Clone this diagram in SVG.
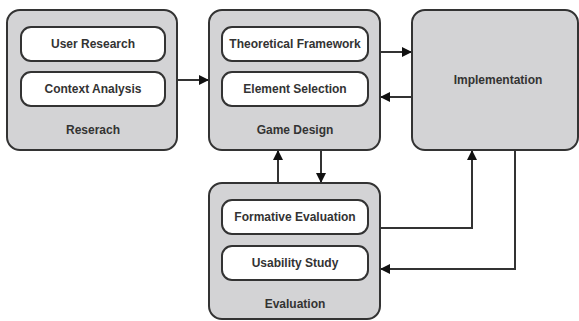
<svg xmlns="http://www.w3.org/2000/svg" width="579" height="321" viewBox="0 0 579 321">
<defs>
<style>
.outer{fill:#d3d3d5;stroke:#333;stroke-width:2}
.inner{fill:#fff;stroke:#333;stroke-width:2}
.t{font-family:"Liberation Sans",Arial,sans-serif;font-size:12px;font-weight:bold;fill:#333;text-anchor:middle;dominant-baseline:central}
.c{fill:none;stroke:#333;stroke-width:2}
</style>
<marker id="a" viewBox="0 0 10 10" refX="9" refY="5" markerWidth="10" markerHeight="10" orient="auto" markerUnits="userSpaceOnUse">
<path d="M0,0 L10,5 L0,10 z" fill="#111"/>
</marker>
</defs>
<g id="connectors">
<line class="c" x1="177" y1="80" x2="208" y2="80" marker-end="url(#a)"/>
<line class="c" x1="380" y1="52" x2="411" y2="52" marker-end="url(#a)"/>
<line class="c" x1="412" y1="97" x2="381" y2="97" marker-end="url(#a)"/>
<line class="c" x1="278" y1="183" x2="278" y2="151" marker-end="url(#a)"/>
<line class="c" x1="321" y1="150" x2="321" y2="182" marker-end="url(#a)"/>
<polyline class="c" points="380,228 472,228 472,151" marker-end="url(#a)"/>
<polyline class="c" points="515,150 515,269 381,269" marker-end="url(#a)"/>
</g>
<g id="research">
<rect class="outer" x="7" y="10" width="170" height="140" rx="13"/>
<g id="user-research"><rect class="inner" x="21" y="27" width="144" height="34" rx="10"/><text class="t" x="93" y="44">User Research</text></g>
<g id="context-analysis"><rect class="inner" x="21" y="72" width="144" height="34" rx="10"/><text class="t" x="93" y="89">Context Analysis</text></g>
<text class="t" x="93" y="130">Reserach</text>
</g>
<g id="game-design">
<rect class="outer" x="209" y="10" width="171" height="140" rx="13"/>
<g id="theoretical-framework"><rect class="inner" x="222" y="27" width="146" height="34" rx="10"/><text class="t" x="295" y="44">Theoretical Framework</text></g>
<g id="element-selection"><rect class="inner" x="222" y="72" width="146" height="34" rx="10"/><text class="t" x="295" y="89">Element Selection</text></g>
<text class="t" x="295" y="130">Game Design</text>
</g>
<g id="implementation">
<rect class="outer" x="412" y="10" width="166" height="140" rx="13"/>
<text class="t" x="498" y="80">Implementation</text>
</g>
<g id="evaluation">
<rect class="outer" x="209" y="183" width="171" height="136" rx="13"/>
<g id="formative-evaluation"><rect class="inner" x="222" y="200" width="146" height="34" rx="10"/><text class="t" x="295" y="217">Formative Evaluation</text></g>
<g id="usability-study"><rect class="inner" x="222" y="246" width="146" height="34" rx="10"/><text class="t" x="295" y="263">Usability Study</text></g>
<text class="t" x="295" y="304">Evaluation</text>
</g>
</svg>
